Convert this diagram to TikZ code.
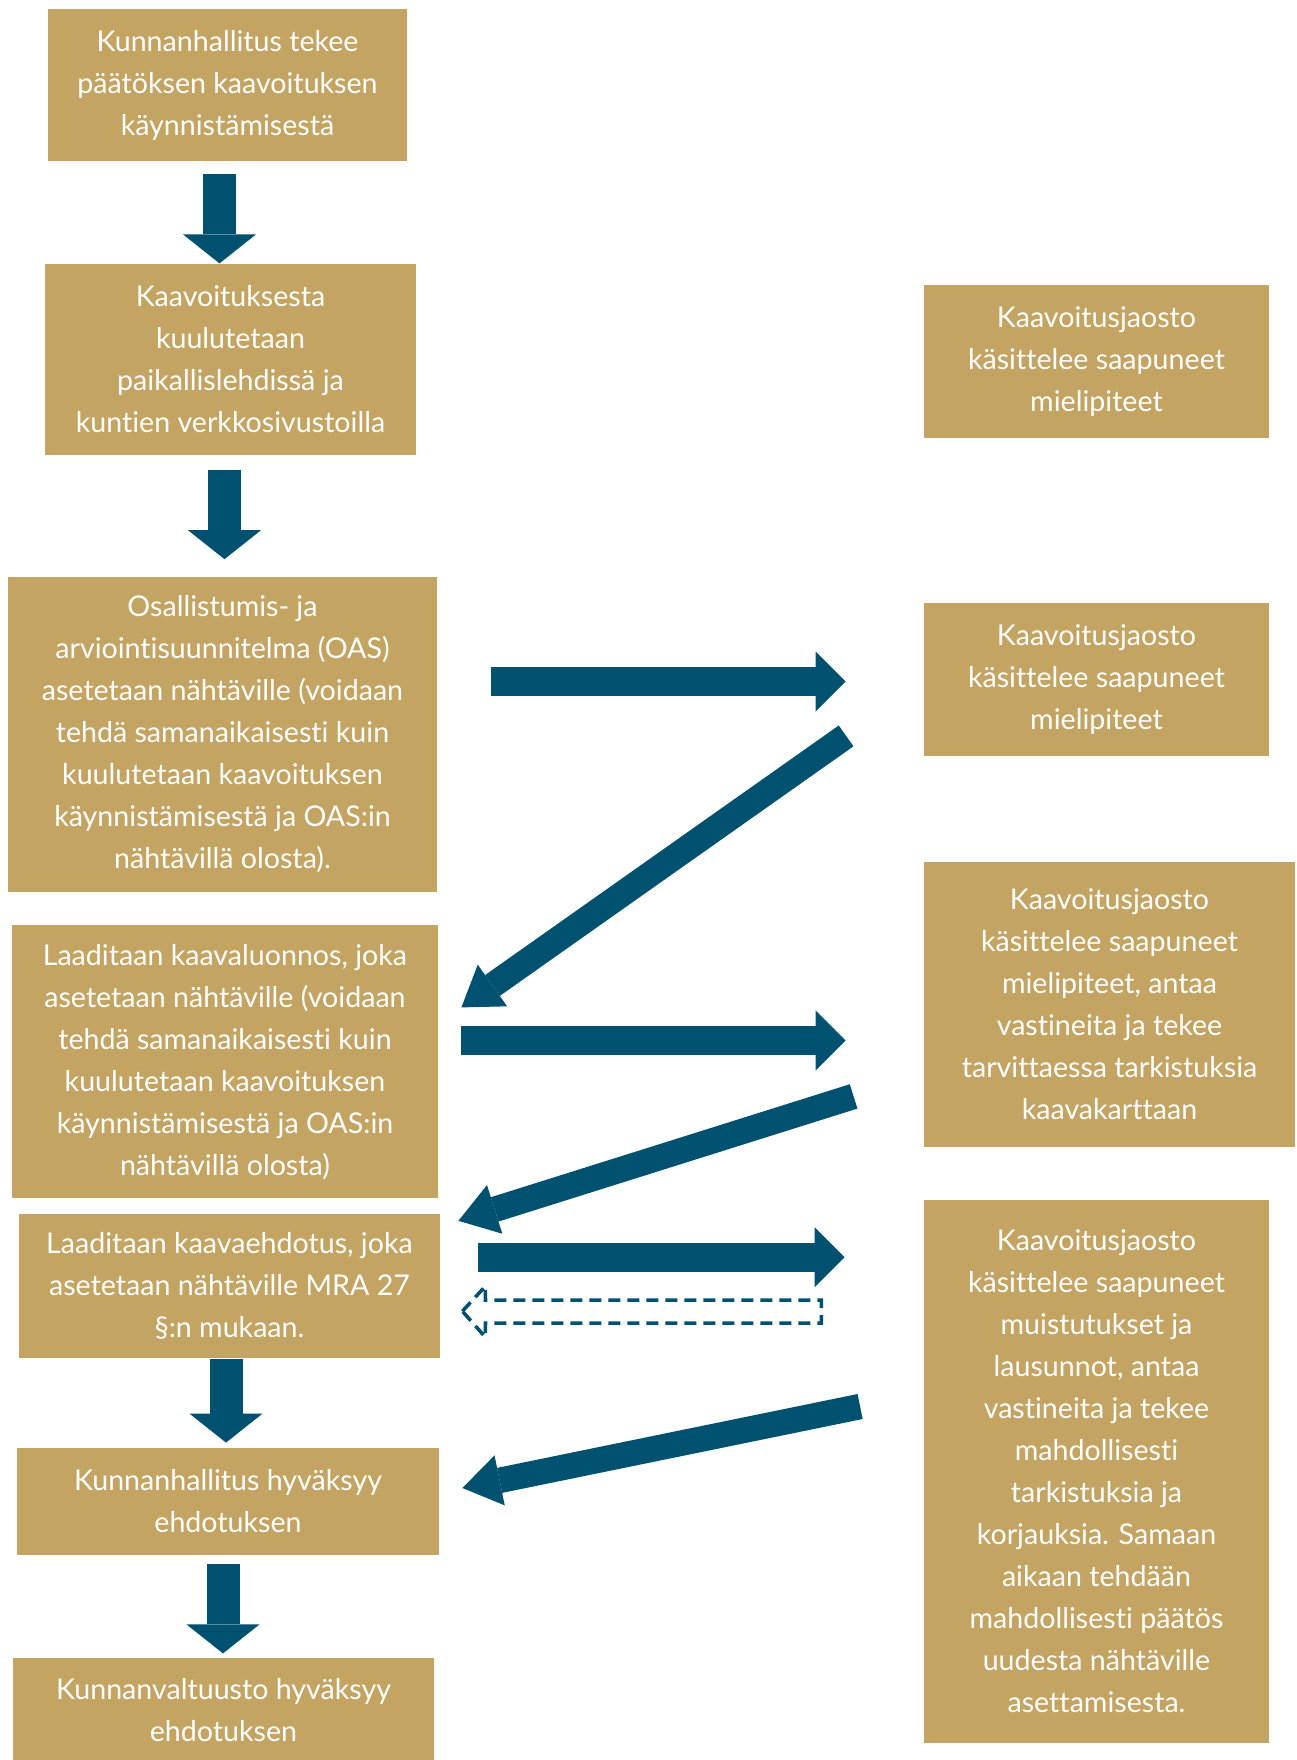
\documentclass[tikz,border=0pt]{standalone}
\usepackage{fontspec}
\setmainfont{Lato}[Ligatures=NoCommon]
\usetikzlibrary{arrows.meta,positioning,calc}
\definecolor{BoxGold}{HTML}{C3A462}
\definecolor{ArrowBlue}{HTML}{00506F}
\tikzset{
  % Base box
  BX/.style={rectangle,fill=BoxGold,draw=none,inner sep=0pt,
             text=white,align=center,font=\fontsize{14.3}{21}\selectfont},
  % Block arrows
  arrV/.style={ArrowBlue,line width=16.5pt,
               -{Triangle[width=36.5pt,length=14.5pt,line width=0pt]}},
  arrH/.style={ArrowBlue,line width=14.5pt,
               -{Triangle[width=30pt,length=15pt,line width=0pt]}},
  arrD/.style={ArrowBlue,line width=12.75pt,
               -{Triangle[width=25.5pt,length=19pt,line width=0pt]}},
  % Hollow dashed arrow
  arrDsh/.style={ArrowBlue,line width=1.75pt,dash pattern=on 6pt off 3.5pt}
}

\begin{document}
\begin{tikzpicture}[x=0.5pt,y=-0.5pt]
  \useasboundingbox (0,0) rectangle (1296,1760);

  %------ LEFT COLUMN ------
  \node[BX,minimum width=179.5pt,minimum height=76pt] at (227.5,85) (b1)
    {Kunnanhallitus tekee\\päätöksen kaavoituksen\\käynnistämisestä};
  \node[BX,minimum width=185.5pt,minimum height=95.5pt,below=51pt of b1,xshift=1.5pt] (b2)
    {Kaavoituksesta\\kuulutetaan\\paikallislehdissä ja\\kuntien verkkosivustoilla};
  \node[BX,minimum width=214.5pt,minimum height=157.5pt,below=60.5pt of b2,xshift=-4pt] (b3)
    {Osallistumis- ja\\arviointisuunnitelma (OAS)\\asetetaan nähtäville (voidaan\\tehdä samanaikaisesti kuin\\kuulutetaan kaavoituksen\\käynnistämisestä ja OAS:in\\nähtävillä olosta).};
  \node[BX,minimum width=213pt,minimum height=136.5pt,below=16.5pt of b3,xshift=1.25pt] (b4)
    {Laaditaan kaavaluonnos, joka\\asetetaan nähtäville (voidaan\\tehdä samanaikaisesti kuin\\kuulutetaan kaavoituksen\\käynnistämisestä ja OAS:in\\nähtävillä olosta)};
  \node[BX,minimum width=210.5pt,minimum height=72pt,below=7.5pt of b4,xshift=2.25pt] (b5)
    {Laaditaan kaavaehdotus, joka\\asetetaan nähtäville MRA 27\\§:n mukaan.};
  \node[BX,minimum width=211pt,minimum height=53.5pt,below=44.5pt of b5,xshift=-0.75pt] (b6)
    {Kunnanhallitus hyväksyy\\ehdotuksen};
  \node[BX,minimum width=210.5pt,minimum height=52.5pt,below=51pt of b6,xshift=-2.25pt] (b7)
    {Kunnanvaltuusto hyväksyy\\ehdotuksen};

  %------ RIGHT COLUMN ------
  \node[BX,minimum width=172.5pt,minimum height=76.5pt] at (1096.5,361.5) (r1)
    {Kaavoitusjaosto\\käsittelee saapuneet\\mielipiteet};
  \node[BX,minimum width=172.5pt,minimum height=76.5pt] at (1096.5,679.5) (r2)
    {Kaavoitusjaosto\\käsittelee saapuneet\\mielipiteet};
  \node[BX,minimum width=185.5pt,minimum height=142.5pt] at (1109.5,1004.5) (r3)
    {Kaavoitusjaosto\\käsittelee saapuneet\\mielipiteet, antaa\\vastineita ja tekee\\tarvittaessa tarkistuksia\\kaavakarttaan};
  \node[BX,minimum width=172.5pt,minimum height=271.5pt] at (1096.5,1471.5) (r4)
    {Kaavoitusjaosto\\käsittelee saapuneet\\muistutukset ja\\lausunnot, antaa\\vastineita ja tekee\\mahdollisesti\\tarkistuksia ja\\korjauksia. Samaan\\aikaan tehdään\\mahdollisesti päätös\\uudesta nähtäville\\asettamisesta.};

  % Down arrows
  \draw[arrV] ($(b1.south)+(-4pt,-6.5pt)$) -- ($(b1.south |- b2.north)+(-4pt,0pt)$);
  \draw[arrV] ($(b2.south)+(-3pt,-7.5pt)$) -- ($(b2.south |- b3.north)+(-3pt,8.5pt)$);
  \draw[arrV] ($(b5.south)+(-1.75pt,0pt)$) -- ($(b5.south |- b6.north)+(-1.75pt,2.5pt)$);
  \draw[arrV] ($(b6.south)+(-2.5pt,-4.5pt)$) -- ($(b6.south |- b7.north)+(-2.5pt,2pt)$);

  % Arrows to the right column
  \draw[arrH] ($(b3.east)+(27pt,26.25pt)$) -- ($(b3.east -| r2.west)+(-39pt,26.25pt)$);
  \draw[arrH] ($(b4.east)+(11.5pt,10.75pt)$) -- ($(b4.east -| r3.west)+(-39pt,10.75pt)$);
  \draw[arrH] ($(b5.east)+(19pt,14.5pt)$) -- ($(b5.east -| r4.west)+(-39.5pt,14.5pt)$);

  % Arrows back to the left column
  \draw[arrD] ($(r2.south west)+(-38.75pt,10.25pt)$) -- ($(b4.east)+(11.5pt,27.25pt)$);
  \draw[arrD] ($(r3.south west)+(-35pt,25.5pt)$) -- ($(b5.north east)+(9pt,-3.5pt)$);
  \draw[arrD] ($(r4.west)+(-31.75pt,32.5pt)$) -- ($(b6.east)+(11.5pt,6.75pt)$);

  % Hollow dashed arrow
  \coordinate (dtip) at ($(b5.east)+(11pt,-12.5pt)$);
  \draw[arrDsh] (dtip) -- ++(23,-25) -- ++(0,14) -- ++(336,0) -- ++(0,23)
    -- ++(-336,0) -- ++(0,14) -- cycle;
\end{tikzpicture}
\end{document}
